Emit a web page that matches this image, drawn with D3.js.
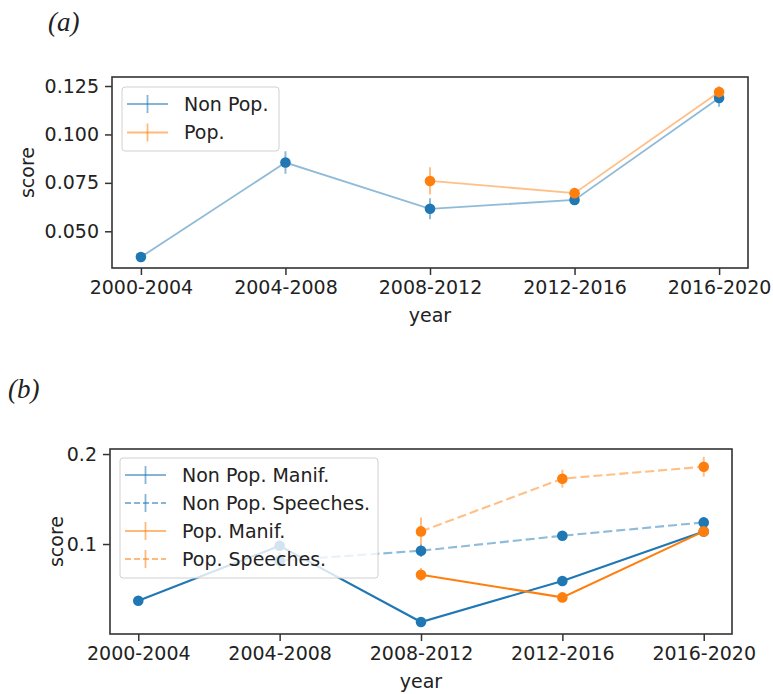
<!DOCTYPE html>
<html>
<head>
<meta charset="utf-8">
<script src="https://cdn.jsdelivr.net/npm/d3@7"></script>
<style>
  html, body { margin: 0; padding: 0; background: #fff; }
  svg text { font-family: "DejaVu Sans", sans-serif; fill: #222; }
</style>
</head>
<body>
<svg id="chart" width="773" height="694"></svg>
<script>
// Time windows on the x axis
const periods = ["2000-2004", "2004-2008", "2008-2012", "2012-2016", "2016-2020"];

// Panel (a): overall score
const nonPopScore = [0.0367, 0.0855, 0.0616, 0.0662, 0.1188];
const nonPopErr   = [0.0010, 0.0058, 0.0054, 0.0015, 0.0045];
const popScore    = [null, null, 0.0760, 0.0697, 0.1219];
const popErr      = [null, null, 0.0070, 0.0020, 0.0030];
const yTicksA     = [0.050, 0.075, 0.100, 0.125];

// Panel (b): manifestos vs speeches
const nonPopManif       = [0.0370, 0.0980, 0.0133, 0.0589, 0.1140];
const nonPopManifErr    = [0.0010, 0.0030, 0.0020, 0.0020, 0.0030];
const nonPopSpeeches    = [null, 0.0815, 0.0926, 0.1092, 0.1240];
const nonPopSpeechesErr = [null, 0.0090, 0.0070, 0.0035, 0.0050];
const popManif          = [null, null, 0.0659, 0.0407, 0.1140];
const popManifErr       = [null, null, 0.0074, 0.0020, 0.0030];
const popSpeeches       = [null, null, 0.1140, 0.1726, 0.1859];
const popSpeechesErr    = [null, null, 0.0155, 0.0100, 0.0110];
const yTicksB           = [0.1, 0.2];

const BLUE = "#1f77b4", ORANGE = "#ff7f0e";
const svg = d3.select("#chart");

function drawPanel(cfg) {
  const { box, yDomain, yTicks, yFormat, series, legend, title } = cfg;
  const g = svg.append("g");

  const x = d3.scalePoint().domain(periods).range([box.left, box.right]).padding(0.2);
  const y = d3.scaleLinear().domain(yDomain).range([box.bottom, box.top]);

  // panel letter
  svg.append("text")
    .attr("x", title.x).attr("y", title.y)
    .style("font-family", "'Liberation Serif', 'DejaVu Serif', serif")
    .style("font-style", "italic")
    .style("font-size", "27px")
    .text(title.text);

  // axes
  const xAxis = d3.axisBottom(x).tickSize(7).tickPadding(6);
  const yAxis = d3.axisLeft(y).tickValues(yTicks).tickFormat(d3.format(yFormat)).tickSize(7).tickPadding(6);

  const gx = g.append("g").attr("transform", `translate(0,${box.bottom})`).call(xAxis);
  const gy = g.append("g").attr("transform", `translate(${box.left},0)`).call(yAxis);
  [gx, gy].forEach(a => {
    a.select(".domain").remove();
    a.selectAll(".tick line").attr("stroke", "#333").attr("stroke-width", 1.5);
    a.selectAll(".tick text").style("font-size", "19px").attr("fill", "#222");
  });

  // axis titles
  g.append("text")
    .attr("x", x("2008-2012")).attr("y", box.bottom + 54)
    .attr("text-anchor", "middle").style("font-size", "19px").text("year");
  g.append("text")
    .attr("transform", `translate(${cfg.scoreX},${(box.top + box.bottom) / 2}) rotate(-90)`)
    .attr("text-anchor", "middle").attr("dy", "0.35em")
    .style("font-size", "19px").text("score");

  const plot = g.append("g");

  series.forEach(s => {
    const pts = periods.map((p, i) => ({ p, v: s.values[i], e: s.errors[i] }))
                       .filter(d => d.v != null);
    const line = d3.line().x(d => x(d.p)).y(d => y(d.v));

    plot.append("path")
      .datum(pts)
      .attr("d", line)
      .attr("fill", "none")
      .attr("stroke", s.color)
      .attr("stroke-opacity", s.lineOpacity)
      .attr("stroke-width", s.width)
      .attr("stroke-dasharray", s.dashed ? "9,4" : null);

    plot.selectAll(null).data(pts).enter().append("line")
      .attr("x1", d => x(d.p)).attr("x2", d => x(d.p))
      .attr("y1", d => y(d.v - d.e)).attr("y2", d => y(d.v + d.e))
      .attr("stroke", s.color).attr("stroke-opacity", 0.5).attr("stroke-width", 2);

    plot.selectAll(null).data(pts).enter().append("circle")
      .attr("cx", d => x(d.p)).attr("cy", d => y(d.v))
      .attr("r", 5.3).attr("fill", s.color);
  });

  // frame
  g.append("rect")
    .attr("x", box.left).attr("y", box.top)
    .attr("width", box.right - box.left).attr("height", box.bottom - box.top)
    .attr("fill", "none").attr("stroke", "#333").attr("stroke-width", 1.6);

  // legend
  const lg = g.append("g");
  lg.append("rect")
    .attr("x", legend.x).attr("y", legend.y)
    .attr("width", legend.w).attr("height", legend.h)
    .attr("rx", 3)
    .attr("fill", "#fff").attr("fill-opacity", 0.8)
    .attr("stroke", "#d0d0d0").attr("stroke-width", 1);
  series.forEach((s, i) => {
    const cy = legend.y + legend.first + i * legend.gap;
    const x0 = legend.x + 5, x1 = legend.x + 46;
    lg.append("line")
      .attr("x1", x0).attr("x2", x1).attr("y1", cy).attr("y2", cy)
      .attr("stroke", s.color).attr("stroke-opacity", 0.55).attr("stroke-width", 1.8)
      .attr("stroke-dasharray", s.dashed ? "6,3" : null);
    lg.append("line")
      .attr("x1", (x0 + x1) / 2).attr("x2", (x0 + x1) / 2)
      .attr("y1", cy - 9).attr("y2", cy + 9)
      .attr("stroke", s.color).attr("stroke-opacity", 0.55).attr("stroke-width", 1.8);
    lg.append("text")
      .attr("x", legend.x + 62).attr("y", cy).attr("dy", "0.36em")
      .style("font-size", "19px").text(s.name);
  });
}

drawPanel({
  title: { text: "(a)", x: 48, y: 31 },
  box: { left: 112, right: 748, top: 77, bottom: 268 },
  yDomain: [0.03105, 0.12965],
  yTicks: yTicksA,
  yFormat: ".3f",
  scoreX: 27,
  legend: { x: 122, y: 87, w: 157, h: 64, first: 17, gap: 28.5 },
  series: [
    { name: "Non Pop.", values: nonPopScore, errors: nonPopErr, color: BLUE, lineOpacity: 0.5, width: 1.8, dashed: false },
    { name: "Pop.", values: popScore, errors: popErr, color: ORANGE, lineOpacity: 0.5, width: 1.8, dashed: false }
  ]
});

drawPanel({
  title: { text: "(b)", x: 8, y: 398 },
  box: { left: 110, right: 732, top: 449, bottom: 634 },
  yDomain: [0.0, 0.2056],
  yTicks: yTicksB,
  yFormat: ".1f",
  scoreX: 56,
  legend: { x: 120, y: 458, w: 258, h: 120, first: 17, gap: 28 },
  series: [
    { name: "Non Pop. Manif.", values: nonPopManif, errors: nonPopManifErr, color: BLUE, lineOpacity: 1, width: 2.1, dashed: false },
    { name: "Non Pop. Speeches.", values: nonPopSpeeches, errors: nonPopSpeechesErr, color: BLUE, lineOpacity: 0.5, width: 2.1, dashed: true },
    { name: "Pop. Manif.", values: popManif, errors: popManifErr, color: ORANGE, lineOpacity: 1, width: 2.1, dashed: false },
    { name: "Pop. Speeches.", values: popSpeeches, errors: popSpeechesErr, color: ORANGE, lineOpacity: 0.5, width: 2.1, dashed: true }
  ]
});
</script>
</body>
</html>
